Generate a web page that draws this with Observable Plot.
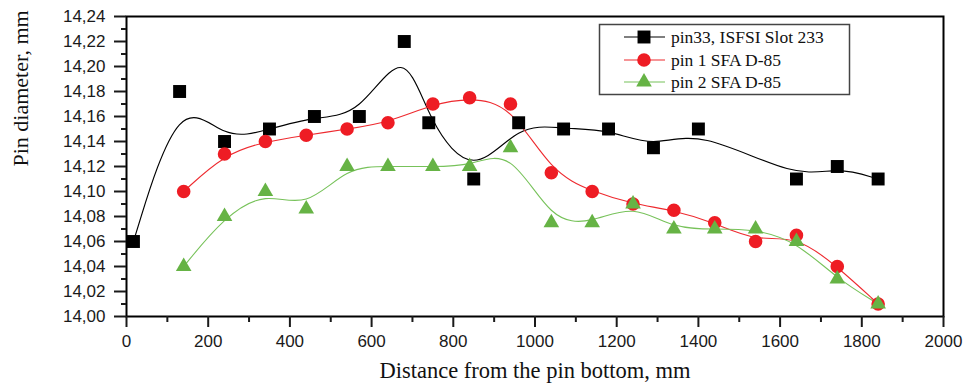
<!DOCTYPE html>
<html>
<head>
<meta charset="utf-8">
<script src="https://cdn.jsdelivr.net/npm/d3@7"></script>
<script src="https://cdn.jsdelivr.net/npm/@observablehq/plot@0.6"></script>
<style>
  html, body { margin: 0; padding: 0; background: #fff; }
  #chart { width: 963px; height: 390px; }
</style>
</head>
<body>
<div id="chart"></div>
<script>
// ---- Data ----
const seriesNames = ["pin33, ISFSI Slot 233", "pin 1 SFA D-85", "pin 2 SFA D-85"];

const xPin33 = [17, 130, 240, 350, 460, 570, 680, 740, 850, 960, 1070, 1180, 1290, 1400, 1640, 1740, 1840];
const yPin33 = [14.06, 14.18, 14.14, 14.15, 14.16, 14.16, 14.22, 14.155, 14.11, 14.155, 14.15, 14.15, 14.135, 14.15, 14.11, 14.12, 14.11];

const xPin1 = [140, 240, 340, 440, 540, 640, 750, 840, 940, 1040, 1140, 1240, 1340, 1440, 1540, 1640, 1740, 1840];
const yPin1 = [14.10, 14.13, 14.14, 14.145, 14.15, 14.155, 14.17, 14.175, 14.17, 14.115, 14.10, 14.09, 14.085, 14.075, 14.06, 14.065, 14.04, 14.01];

const xPin2 = [140, 240, 340, 440, 540, 640, 750, 840, 940, 1040, 1140, 1240, 1340, 1440, 1540, 1640, 1740, 1840];
const yPin2 = [14.04, 14.08, 14.10, 14.086, 14.12, 14.12, 14.12, 14.12, 14.135, 14.075, 14.075, 14.09, 14.07, 14.07, 14.07, 14.06, 14.03, 14.01];

const xTicks = [0, 200, 400, 600, 800, 1000, 1200, 1400, 1600, 1800, 2000];
const xMinorTicks = [100, 300, 500, 700, 900, 1100, 1300, 1500, 1700, 1900];
const yTicks = [14.00, 14.02, 14.04, 14.06, 14.08, 14.10, 14.12, 14.14, 14.16, 14.18, 14.20, 14.22, 14.24];
const yMinorTicks = [14.01, 14.03, 14.05, 14.07, 14.09, 14.11, 14.13, 14.15, 14.17, 14.19, 14.21, 14.23];

const xTitle = "Distance from the pin bottom, mm";
const yTitle = "Pin diameter, mm";

// ---- Build tables ----
const toRows = (xs, ys) => xs.map((x, i) => ({x, y: ys[i]}));
const styles = [
  {line: "#000000", fill: "#000000", symbol: "square", r: 7.3},
  {line: "#ee2a2f", fill: "#ee1c24", symbol: "circle", r: 6.8},
  {line: "#77c25a", fill: "#66b345", symbol: "triangle", r: 5.8}
];
const series = [toRows(xPin33, yPin33), toRows(xPin1, yPin1), toRows(xPin2, yPin2)];

const sans = "Liberation Sans, Arial, sans-serif";
const serif = "Liberation Serif, Times New Roman, serif";
const fmt = d => d.toFixed(2).replace(".", ",");

const marks = [];
series.forEach((rows, i) => {
  marks.push(Plot.line(rows, {x: "x", y: "y", curve: "basis", stroke: styles[i].line, strokeWidth: 1.1}));
});
series.forEach((rows, i) => {
  marks.push(Plot.dot(rows, {x: "x", y: "y", symbol: () => styles[i].symbol, r: styles[i].r, fill: styles[i].fill, stroke: "none"}));
});

const chart = Plot.plot({
  width: 963,
  height: 390,
  marginLeft: 126,
  marginRight: 20,
  marginTop: 16,
  marginBottom: 74,
  style: {background: "#fff", fontFamily: sans, overflow: "visible"},
  x: {domain: [0, 2000]},
  y: {domain: [14.0, 14.24]},
  symbol: {type: "identity"},
  marks: [
    ...marks,
    Plot.frame({stroke: "#000", strokeWidth: 2}),
    Plot.axisY({ticks: yTicks, tickSize: 12, tickPadding: 9, tickFormat: fmt, fontSize: 17, fontFamily: sans, label: null, color: "#1a1a1a", strokeWidth: 2}),
    Plot.axisY({ticks: yMinorTicks, tickSize: 5, tickFormat: () => "", label: null, color: "#1a1a1a", strokeWidth: 2}),
    Plot.axisX({ticks: xTicks, tickSize: 11, tickPadding: 7, tickFormat: d => String(d), fontSize: 17, fontFamily: sans, label: null, color: "#1a1a1a", strokeWidth: 2}),
    Plot.axisX({ticks: xMinorTicks, tickSize: 6, tickFormat: () => "", label: null, color: "#1a1a1a", strokeWidth: 2}),
    Plot.text([xTitle], {frameAnchor: "bottom", dy: 61, fontSize: 22.5, fontFamily: serif, fill: "#111"}),
    Plot.text([yTitle], {frameAnchor: "left", dx: -106, rotate: -90, fontSize: 22, fontFamily: serif, fill: "#111"})
  ]
});

document.getElementById("chart").appendChild(chart);

// ---- Legend (inside the plot, upper right) ----
const svg = d3.select(chart);
const lg = svg.append("g").attr("class", "legend").attr("text-anchor", "start");
lg.append("rect")
  .attr("x", 599.5).attr("y", 24.5).attr("width", 250).attr("height", 70)
  .attr("fill", "#fff").attr("stroke", "#444").attr("stroke-width", 1.5);
const rowY = [37, 60, 82];
seriesNames.forEach((name, i) => {
  const y = rowY[i];
  lg.append("line").attr("x1", 624).attr("x2", 665).attr("y1", y).attr("y2", y)
    .attr("stroke", styles[i].line).attr("stroke-width", 1.2);
  const symType = {square: d3.symbolSquare, circle: d3.symbolCircle, triangle: d3.symbolTriangle}[styles[i].symbol];
  lg.append("path")
    .attr("d", d3.symbol(symType, Math.PI * styles[i].r * styles[i].r)())
    .attr("transform", `translate(644,${y})`)
    .attr("fill", styles[i].fill);
  lg.append("text").attr("x", 671).attr("y", y).attr("dy", "0.35em")
    .attr("text-anchor", "start")
    .attr("font-family", serif).attr("font-size", 17.5).attr("fill", "#111")
    .text(name);
});
</script>
</body>
</html>
